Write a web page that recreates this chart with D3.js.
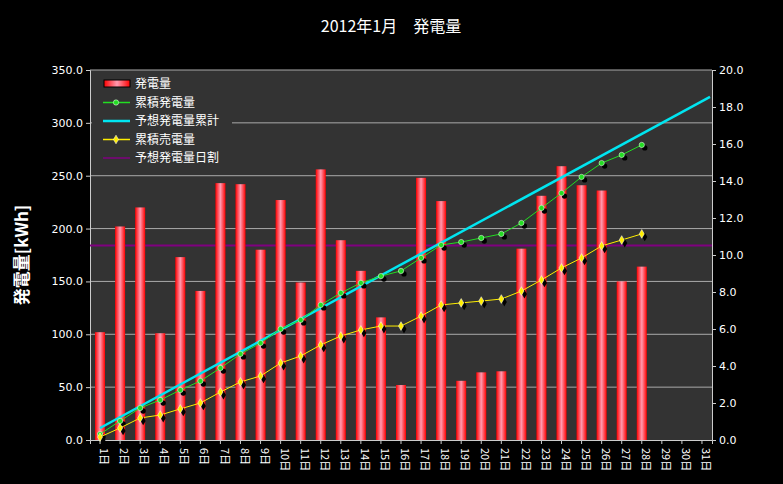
<!DOCTYPE html><html><head><meta charset="utf-8"><script src="https://cdn.jsdelivr.net/npm/d3@7"></script>
<style>body{margin:0;background:#000}</style></head><body><svg id="c" width="783" height="484"></svg>
<script>
const days=d3.range(1,32).map(d=>d+"日");
const gen=[102,202,220,101,173,141,243,242,180,227,149,256,189,160,116,52,248,226,56,64,65,181,231,259,241,236,150,164];
const cumGen=[0.32,1.03,1.73,2.16,2.7,3.19,3.89,4.65,5.24,6.0,6.49,7.3,7.95,8.49,8.86,9.14,9.84,10.54,10.7,10.92,11.14,11.73,12.54,13.35,14.22,14.97,15.41,15.95];
const cumSell=[0.16,0.65,1.19,1.35,1.68,2.0,2.59,3.14,3.46,4.16,4.54,5.14,5.62,5.95,6.16,6.16,6.7,7.3,7.41,7.51,7.62,8.05,8.65,9.3,9.84,10.49,10.81,11.14];
const forecastStart=0.65, forecastEnd=18.55, dailyForecast=184;
const leftTicks=d3.range(0,351,50), rightTicks=d3.range(0,20.1,2);
const svg=d3.select("#c"), L=90,R=712,T=70,B=440;
const x=d3.scaleBand().domain(days).range([L,R]);
const yL=d3.scaleLinear().domain([0,350]).range([B,T]);
const yR=d3.scaleLinear().domain([0,20]).range([B,T]);
const defs=svg.append("defs");
const g=defs.append("linearGradient").attr("id","bg");
[[0,"#ff0000"],[0.5,"#ff9ab0"],[1,"#ff0000"]].forEach(s=>g.append("stop").attr("offset",s[0]).attr("stop-color",s[1]));
svg.append("text").attr("x",391).attr("y",32).attr("text-anchor","middle").attr("fill","#fff").attr("font-size",16).attr("font-family","Noto Sans CJK JP").text("2012年1月　発電量");
svg.append("rect").attr("x",L).attr("y",T).attr("width",R-L).attr("height",B-T).attr("fill","#333");
svg.selectAll(".gl").data(leftTicks.slice(1)).join("line").attr("x1",L).attr("x2",R).attr("y1",d=>yL(d)).attr("y2",d=>yL(d)).attr("stroke","#aaa").attr("stroke-width",1);
const ff="Noto Sans CJK JP";
const la=svg.append("g").attr("transform",`translate(${L},0)`).call(d3.axisLeft(yL).tickValues(leftTicks).tickFormat(d3.format(".1f")).tickSize(4));
const ra=svg.append("g").attr("transform",`translate(${R},0)`).call(d3.axisRight(yR).tickValues(rightTicks).tickFormat(d3.format(".1f")).tickSize(4));
const ba=svg.append("g").attr("transform",`translate(0,${B})`).call(d3.axisBottom(x).tickSize(4));
[la,ra,ba].forEach(a=>{a.selectAll("path,line").attr("stroke","#ccc");a.selectAll("text").attr("fill","#fff").attr("font-size",11).attr("font-family","DejaVu Sans");});
ba.selectAll("text").attr("transform","rotate(90)").attr("text-anchor","start").attr("x",8).attr("y",-4).attr("dy","0.35em").attr("font-family",ff);
svg.append("text").attr("transform",`translate(28,255) rotate(-90)`).attr("text-anchor","middle").attr("fill","#fff").attr("font-size",17).attr("font-weight","bold").attr("font-family",ff).text("発電量[kWh]");
svg.append("line").attr("x1",L).attr("x2",R).attr("y1",yL(dailyForecast)).attr("y2",yL(dailyForecast)).attr("stroke","#800080").attr("stroke-width",2);
svg.selectAll(".bar").data(gen).join("rect").attr("x",(d,i)=>x(days[i])+x.bandwidth()/2-5).attr("width",10).attr("y",d=>yL(d)).attr("height",d=>B-yL(d)).attr("fill","url(#bg)");
const cx=i=>x(days[i])+x.bandwidth()/2;
svg.append("line").attr("x1",cx(0)).attr("x2",R-2).attr("y1",yR(forecastStart)).attr("y2",yR(forecastEnd)).attr("stroke","#00e5f0").attr("stroke-width",2.5);
function series(data,col,type){
 const ln=d3.line().x((d,i)=>cx(i)).y(d=>yR(d));
 svg.append("path").attr("d",ln(data)).attr("fill","none").attr("stroke",col).attr("stroke-width",1);
 const sym=d3.symbol().type(type).size(22);
 svg.selectAll(null).data(data).join("path").attr("d",sym).attr("transform",(d,i)=>`translate(${cx(i)+3},${yR(d)+3})`).attr("fill","#000");
 svg.selectAll(null).data(data).join("path").attr("d",sym).attr("transform",(d,i)=>`translate(${cx(i)},${yR(d)})`).attr("fill",col).attr("stroke","#fff").attr("stroke-width",0.5);
}
series(cumGen,"#22dd22",d3.symbolCircle);series(cumSell,"#ffee00",d3.symbolDiamond);
const lg=svg.append("g").attr("font-family",ff).attr("font-size",12).attr("fill","#fff");
const items=["発電量","累積発電量","予想発電量累計","累積売電量","予想発電量日割"];
lg.append("rect").attr("x",92).attr("y",72).attr("width",140).attr("height",100).attr("fill","#333");
items.forEach((t,i)=>{const yy=84+i*18.5;lg.append("text").attr("x",135).attr("y",yy+4).text(t);});
lg.append("rect").attr("x",104).attr("y",80).attr("width",26).attr("height",7).attr("fill","url(#bg)").attr("stroke","#000");
const cols=["#22dd22","#00e5f0","#ffee00","#800080"];
cols.forEach((c,i)=>{const yy=84+(i+1)*18.5;lg.append("line").attr("x1",103).attr("x2",130).attr("y1",yy).attr("y2",yy).attr("stroke",c).attr("stroke-width",i==1?2.5:1.5);
 if(i==0||i==2)lg.append("path").attr("d",d3.symbol().type(i==0?d3.symbolCircle:d3.symbolDiamond).size(22)).attr("transform",`translate(116,${yy})`).attr("fill",c).attr("stroke","#fff").attr("stroke-width",0.5);});
</script></body></html>
